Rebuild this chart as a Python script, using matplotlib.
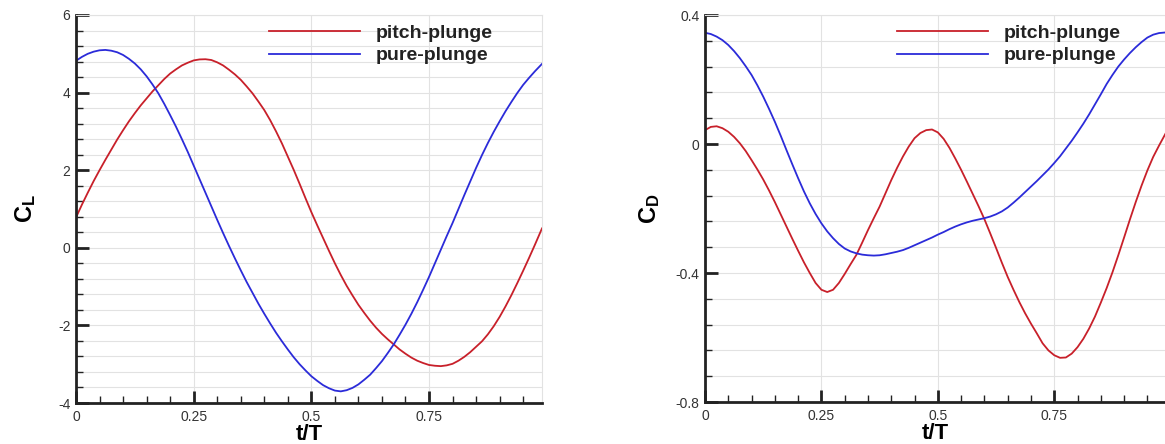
import numpy as np
import matplotlib
matplotlib.use("Agg")
import matplotlib.pyplot as plt
from matplotlib.ticker import MultipleLocator, FixedLocator

plt.rcParams['font.family'] = ['Liberation Sans', 'DejaVu Sans']
plt.rcParams['mathtext.fontset'] = 'custom'
plt.rcParams['mathtext.rm'] = 'Liberation Sans'
plt.rcParams['mathtext.bf'] = 'Liberation Sans:bold'

# time samples over one cycle (t/T)
t = [0.0, 0.0125, 0.025, 0.0375, 0.05, 0.0625, 0.075, 0.0875,
     0.1, 0.1125, 0.125, 0.1375, 0.15, 0.1625, 0.175, 0.1875,
     0.2, 0.2125, 0.225, 0.2375, 0.25, 0.2625, 0.275, 0.2875,
     0.3, 0.3125, 0.325, 0.3375, 0.35, 0.3625, 0.375, 0.3875,
     0.4, 0.4125, 0.425, 0.4375, 0.45, 0.4625, 0.475, 0.4875,
     0.5, 0.5125, 0.525, 0.5375, 0.55, 0.5625, 0.575, 0.5875,
     0.6, 0.6125, 0.625, 0.6375, 0.65, 0.6625, 0.675, 0.6875,
     0.7, 0.7125, 0.725, 0.7375, 0.75, 0.7625, 0.775, 0.7875,
     0.8, 0.8125, 0.825, 0.8375, 0.85, 0.8625, 0.875, 0.8875,
     0.9, 0.9125, 0.925, 0.9375, 0.95, 0.9625, 0.975, 0.99]

# lift coefficient
cl_pitch = [0.78, 1.11, 1.42, 1.72, 2.00, 2.27, 2.53, 2.79,
            3.03, 3.26, 3.47, 3.67, 3.85, 4.03, 4.19, 4.35,
            4.49, 4.60, 4.70, 4.77, 4.83, 4.855, 4.86, 4.84,
            4.78, 4.70, 4.59, 4.47, 4.33, 4.16, 3.98, 3.77,
            3.55, 3.29, 3.00, 2.69, 2.35, 2.01, 1.65, 1.28,
            0.92, 0.58, 0.25, -0.08, -0.40, -0.70, -0.98, -1.23,
            -1.47, -1.68, -1.88, -2.06, -2.22, -2.36, -2.49, -2.62,
            -2.73, -2.83, -2.91, -2.97, -3.02, -3.04, -3.05, -3.03,
            -2.99, -2.91, -2.81, -2.69, -2.55, -2.41, -2.23, -2.02,
            -1.78, -1.51, -1.22, -0.91, -0.59, -0.26, 0.08, 0.50]
cl_plunge = [4.82, 4.92, 5.00, 5.055, 5.09, 5.10, 5.08, 5.04,
             4.97, 4.87, 4.75, 4.60, 4.42, 4.21, 3.98, 3.71,
             3.42, 3.12, 2.80, 2.47, 2.12, 1.77, 1.42, 1.07,
             0.72, 0.38, 0.05, -0.27, -0.58, -0.88, -1.16, -1.44,
             -1.70, -1.95, -2.19, -2.41, -2.62, -2.82, -3.00, -3.16,
             -3.31, -3.43, -3.54, -3.62, -3.68, -3.70, -3.67, -3.61,
             -3.52, -3.40, -3.27, -3.10, -2.92, -2.71, -2.49, -2.24,
             -1.98, -1.70, -1.40, -1.08, -0.75, -0.40, -0.05, 0.30,
             0.64, 1.00, 1.36, 1.71, 2.06, 2.39, 2.70, 2.99,
             3.26, 3.52, 3.76, 3.99, 4.20, 4.38, 4.55, 4.74]

# drag coefficient
cd_pitch = [0.043, 0.053, 0.055, 0.049, 0.038, 0.022, 0.002, -0.022,
            -0.050, -0.079, -0.110, -0.144, -0.180, -0.218, -0.256, -0.294,
            -0.331, -0.367, -0.400, -0.431, -0.452, -0.459, -0.452, -0.431,
            -0.403, -0.373, -0.344, -0.306, -0.267, -0.230, -0.194, -0.153,
            -0.112, -0.074, -0.039, -0.008, 0.018, 0.034, 0.043, 0.045,
            0.036, 0.016, -0.012, -0.045, -0.080, -0.117, -0.155, -0.193,
            -0.233, -0.277, -0.322, -0.368, -0.412, -0.452, -0.490, -0.525,
            -0.557, -0.587, -0.618, -0.640, -0.655, -0.663, -0.662, -0.650,
            -0.630, -0.604, -0.572, -0.535, -0.492, -0.447, -0.398, -0.345,
            -0.290, -0.234, -0.180, -0.129, -0.082, -0.040, -0.005, 0.035]
cd_plunge = [0.345, 0.341, 0.333, 0.322, 0.307, 0.288, 0.266, 0.241,
             0.214, 0.182, 0.147, 0.109, 0.069, 0.026, -0.019, -0.063,
             -0.106, -0.147, -0.184, -0.217, -0.246, -0.271, -0.292, -0.310,
             -0.324, -0.333, -0.339, -0.343, -0.345, -0.346, -0.345, -0.342,
             -0.338, -0.334, -0.329, -0.322, -0.314, -0.306, -0.298, -0.290,
             -0.281, -0.273, -0.264, -0.256, -0.249, -0.243, -0.238, -0.234,
             -0.230, -0.225, -0.218, -0.209, -0.197, -0.182, -0.166, -0.149,
             -0.132, -0.115, -0.097, -0.079, -0.059, -0.038, -0.014, 0.010,
             0.036, 0.063, 0.092, 0.123, 0.154, 0.186, 0.214, 0.240,
             0.262, 0.282, 0.300, 0.316, 0.330, 0.339, 0.344, 0.346]

RED = '#c8202a'
BLUE = '#2b2bd9'
GRID = '#e2e2e2'


def style_axes(ax, ylim, ymajor, yminor):
    ax.set_xlim(0, 0.99)
    ax.set_ylim(*ylim)
    ax.xaxis.set_major_locator(FixedLocator([0, 0.25, 0.5, 0.75]))
    ax.xaxis.set_minor_locator(MultipleLocator(0.05))
    ax.yaxis.set_major_locator(MultipleLocator(ymajor))
    ax.yaxis.set_minor_locator(MultipleLocator(yminor))
    ax.xaxis.set_major_formatter(lambda v, p: '0' if v == 0 else f'{v:g}')
    ax.yaxis.set_major_formatter(lambda v, p: '0' if abs(v) < 1e-9 else f'{v:g}')

    ax.grid(which='major', color=GRID, lw=0.8)
    ax.grid(which='minor', axis='y', color=GRID, lw=0.8)
    ax.set_axisbelow(True)

    for s in ('left', 'bottom'):
        ax.spines[s].set_linewidth(2.0)
        ax.spines[s].set_color('#222222')
    for s in ('top', 'right'):
        ax.spines[s].set_linewidth(0.8)
        ax.spines[s].set_color(GRID)

    ax.tick_params(which='major', direction='in', length=9, width=2.0,
                   color='#222222', labelsize=10, labelcolor='#333333',
                   top=False, right=False)
    ax.tick_params(axis='x', which='major', pad=5)
    ax.tick_params(axis='y', which='major', pad=4)
    ax.tick_params(which='minor', direction='in', length=5, width=1.0,
                   color='#222222', top=False, right=False)
    ax.set_xlabel('t/T', fontsize=16, fontweight='bold', labelpad=0)


fig = plt.figure(figsize=(11.65, 4.44), dpi=100)
ax1 = fig.add_axes([76 / 1165, 41 / 444, 466 / 1165, 388 / 444])
ax2 = fig.add_axes([705 / 1165, 42 / 444, 461 / 1165, 387 / 444])

ax1.plot(t, cl_pitch, color=RED, lw=1.3, label='pitch-plunge')
ax1.plot(t, cl_plunge, color=BLUE, lw=1.3, label='pure-plunge')
style_axes(ax1, (-4, 6), 2, 0.4)
ax1.set_ylabel(r'$\mathbf{C_L}$', fontsize=17, labelpad=14)

ax2.plot(t, cd_pitch, color=RED, lw=1.3, label='pitch-plunge')
ax2.plot(t, cd_plunge, color=BLUE, lw=1.3, label='pure-plunge')
style_axes(ax2, (-0.8, 0.4), 0.4, 0.08)
ax2.set_ylabel(r'$\mathbf{C_D}$', fontsize=17, labelpad=10)

for ax, x0 in ((ax1, (269 - 76) / 466), (ax2, (897 - 705) / 461)):
    leg = ax.legend(loc='upper left', bbox_to_anchor=(x0, 0.976), frameon=False,
                    borderpad=0, borderaxespad=0, handlelength=4.7,
                    handletextpad=0.8, labelspacing=0.25,
                    prop={'size': 14, 'weight': 'bold'})
    for txt in leg.get_texts():
        txt.set_color('#222222')

fig.savefig('out.png', dpi=100)
